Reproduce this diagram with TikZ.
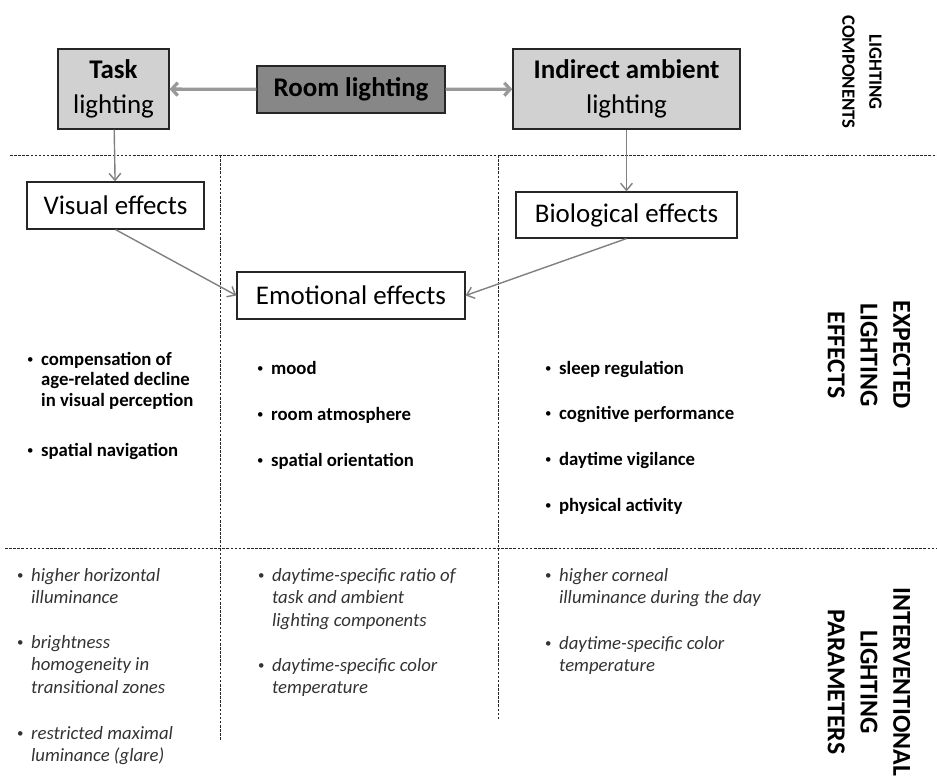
\documentclass[tikz,border=0pt]{standalone}
\usepackage{fontspec}
\setmainfont{Carlito}
\usetikzlibrary{arrows.meta,positioning}

\definecolor{lightbox}{gray}{0.82}
\definecolor{darkbox}{gray}{0.53}
\definecolor{linkgray}{gray}{0.5}
\definecolor{feedgray}{gray}{0.6}
\newcommand{\bul}{\raisebox{1.6pt}{\mdseries\upshape\fontsize{11}{11}\selectfont\textbullet}\hspace{0.4em}}
\newcommand{\hang}{\phantom{\bul}}

\tikzset{
  lamp/.style={draw=black!85,line width=1.1pt,fill=lightbox,align=center,
    font=\fontsize{23}{30}\selectfont,inner sep=0pt},
  effect/.style={draw=black!85,line width=1pt,fill=white,
    font=\fontsize{23}{27}\selectfont,inner sep=0pt},
  link/.style={draw=linkgray,line width=1.2pt,-{Straight Barb[length=6pt,width=10pt]}},
  feed/.style={draw=feedgray,line width=2.8pt,-{Straight Barb[length=5pt,width=11pt]}},
  sep/.style={draw=black!85,line width=0.7pt,dash pattern=on 2.2pt off 1.3pt},
  rowlabel/.style={rotate=-90,align=center,font=\bfseries\fontsize{22}{28}\selectfont},
  fact/.style={anchor=north west,align=left,inner sep=0pt,
    font=\bfseries\fontsize{16}{17.5}\selectfont},
  param/.style={anchor=north west,align=left,inner sep=0pt,text=black!80,
    font=\itshape\fontsize{16}{19.2}\selectfont}
}

\begin{document}
\begin{tikzpicture}[x=0.3mm,y=-0.3mm]
  \useasboundingbox (0,0) rectangle (937,783);
  % separators
  \draw[sep] (10,155) -- (937,155);
  \draw[sep] (5,548) -- (937,548);
  \draw[sep] (220,155) -- (220,740);
  \draw[sep] (498,155) -- (498,720);
  % lighting components
  \node[lamp,minimum width=33.3mm,minimum height=24mm] (task) at (113.5,89) {\textbf{Task}\\lighting};
  \node[lamp,fill=darkbox,minimum width=56.4mm,minimum height=14.1mm] (room) at (351,89.5) {\textbf{Room lighting}};
  \node[lamp,minimum width=68.1mm,minimum height=24mm] (ambient) at (626.5,89) {\textbf{Indirect ambient}\\lighting};
  \draw[feed] (room) -- (task);
  \draw[feed] (room) -- (ambient);
  % effects
  \node[effect,minimum width=53.1mm,minimum height=14.1mm] (visual) at (115.5,205.5) {Visual effects};
  \node[effect,minimum width=66.3mm,minimum height=13.8mm] (bio) at (626.5,215) {Biological effects};
  \node[effect,minimum width=68.4mm,minimum height=14.1mm] (emo) at (351,295.5) {Emotional effects};
  \draw[link] (task) -- (visual);
  \draw[link] (ambient) -- (bio);
  \draw[link] (visual.south) -- (emo.west);
  \draw[link] (bio.south) -- (emo.east);
  % expected effects
  \node[fact] (vis1) at (27,352) {\bul compensation of\\\hang age-related decline\\\hang in visual perception};
  \node[fact] (vis2) at (27,443) {\bul spatial navigation};
  \node[fact] (emo1) at (257,361) {\bul mood};
  \node[fact] (emo2) at (257,407) {\bul room atmosphere};
  \node[fact] (emo3) at (257,453) {\bul spatial orientation};
  \node[fact] (bio1) at (545,361) {\bul sleep regulation};
  \node[fact] (bio2) at (545,406) {\bul cognitive performance};
  \node[fact] (bio3) at (545,452) {\bul daytime vigilance};
  \node[fact] (bio4) at (545,498) {\bul physical activity};
  % parameters
  \node[param] (pv1) at (17,568) {\bul higher horizontal\\\hang illuminance};
  \node[param] (pv2) at (17,635) {\bul brightness\\\hang homogeneity in\\\hang transitional zones};
  \node[param] (pv3) at (17,726) {\bul restricted maximal\\\hang luminance (glare)};
  \node[param] (pe1) at (258,568) {\bul daytime-specific ratio of\\\hang task and ambient\\\hang lighting components};
  \node[param] (pe2) at (258,658) {\bul daytime-specific color\\\hang temperature};
  \node[param] (pb1) at (545,568) {\bul higher corneal\\\hang illuminance during the day};
  \node[param] (pb2) at (545,636) {\bul daytime-specific color\\\hang temperature};
  % row labels
  \node[rowlabel,font=\bfseries\fontsize{16}{23}\selectfont] (rcomp) at (862,72) {LIGHTING\\COMPONENTS};
  \node[rowlabel] (reff) at (869,355) {EXPECTED\\LIGHTING\\EFFECTS};
  \node[rowlabel] (rpar) at (869,682) {INTERVENTIONAL\\LIGHTING\\PARAMETERS};
\end{tikzpicture}
\end{document}
